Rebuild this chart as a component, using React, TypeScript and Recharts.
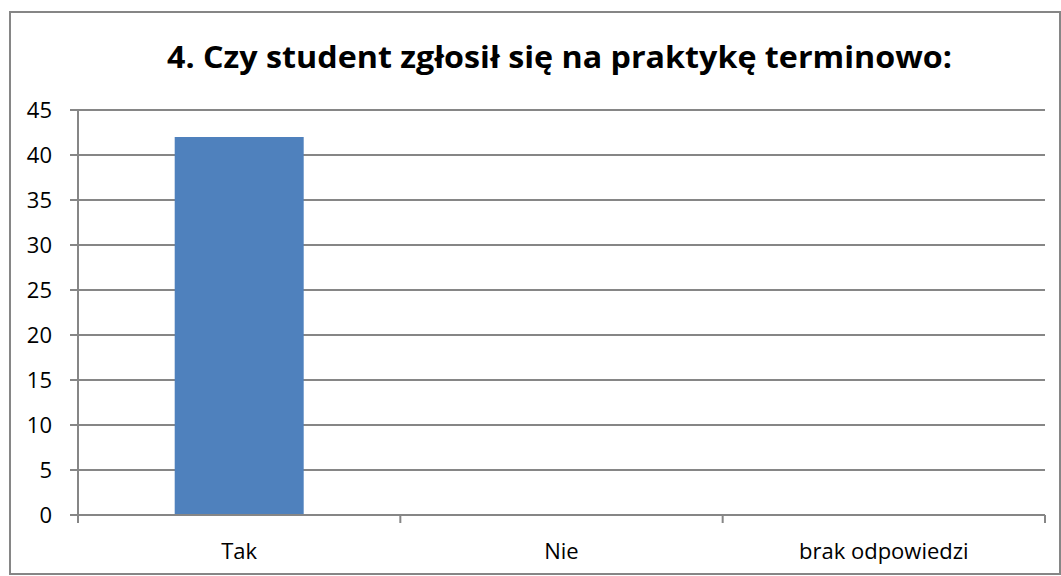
import React from "react";
import { BarChart, Bar, XAxis, YAxis, CartesianGrid } from "recharts";

const categories = ["Tak", "Nie", "brak odpowiedzi"];
const responses = [42, 0, 0];
const yTicks = [0, 5, 10, 15, 20, 25, 30, 35, 40, 45];

const title = "4. Czy student zgłosił się na praktykę terminowo:";

const data = categories.map((name, i) => ({ name, value: responses[i] }));

const W = 1061;
const H = 576;
const plotLeft = 78;
const plotRight = 1045;
const band = (plotRight - plotLeft) / categories.length;
const axisColor = "#868686";
const font = "'Open Sans', sans-serif";
const labelSize = 22;
const xTickSize = 8;
const xTickMargin = 20.5;

// category ticks sit on the band boundaries, not the centres
function CategoryTick(props: any) {
  const { x, y, payload, index } = props;
  const left = x - band / 2;
  const y1 = y - xTickMargin - xTickSize;
  const y2 = y - xTickMargin;
  return (
    <g>
      <line x1={left} y1={y1} x2={left} y2={y2} stroke={axisColor} strokeWidth={2} />
      {index === categories.length - 1 && (
        <line x1={left + band} y1={y1} x2={left + band} y2={y2} stroke={axisColor} strokeWidth={2} />
      )}
      <text x={x} y={y} dy="0.71em" textAnchor="middle" fill="#000" fontSize={labelSize} fontFamily={font}>
        {payload.value}
      </text>
    </g>
  );
}

export default function App() {
  return (
    <div style={{ position: "absolute", left: 0, top: 0, width: W, height: H, background: "#fff" }}>
      <div
        style={{
          position: "absolute",
          left: 9,
          top: 11,
          width: W - 9,
          height: H - 12,
          border: `2px solid ${axisColor}`,
          boxSizing: "border-box",
        }}
      />
      <svg style={{ position: "absolute", left: 0, top: 0 }} width={W} height={100}>
        <text
          x={167}
          y={68}
          fontSize={31}
          fontWeight="bold"
          fontFamily={font}
          textLength={785}
          lengthAdjust="spacingAndGlyphs"
          fill="#000"
        >
          {title}
        </text>
      </svg>
      <div style={{ position: "absolute", left: 0, top: 0 }}>
        <BarChart
          width={W}
          height={H}
          data={data}
          margin={{ top: 110, right: W - plotRight, left: 0, bottom: 0 }}
          barCategoryGap="30%"
        >
          <CartesianGrid horizontal vertical={false} stroke={axisColor} strokeWidth={2} />
          <XAxis
            dataKey="name"
            height={61}
            axisLine={{ stroke: axisColor, strokeWidth: 2 }}
            tickLine={false}
            tickSize={xTickSize}
            tickMargin={xTickMargin}
            tick={<CategoryTick />}
            interval={0}
          />
          <YAxis
            width={plotLeft}
            domain={[0, 45]}
            ticks={yTicks}
            interval={0}
            axisLine={{ stroke: axisColor, strokeWidth: 2 }}
            tickLine={{ stroke: axisColor, strokeWidth: 2 }}
            tickSize={8}
            tickMargin={18}
            tick={{ fill: "#000", fontSize: labelSize, fontFamily: font }}
          />
          <Bar dataKey="value" fill="#4F81BD" isAnimationActive={false} />
        </BarChart>
      </div>
    </div>
  );
}
